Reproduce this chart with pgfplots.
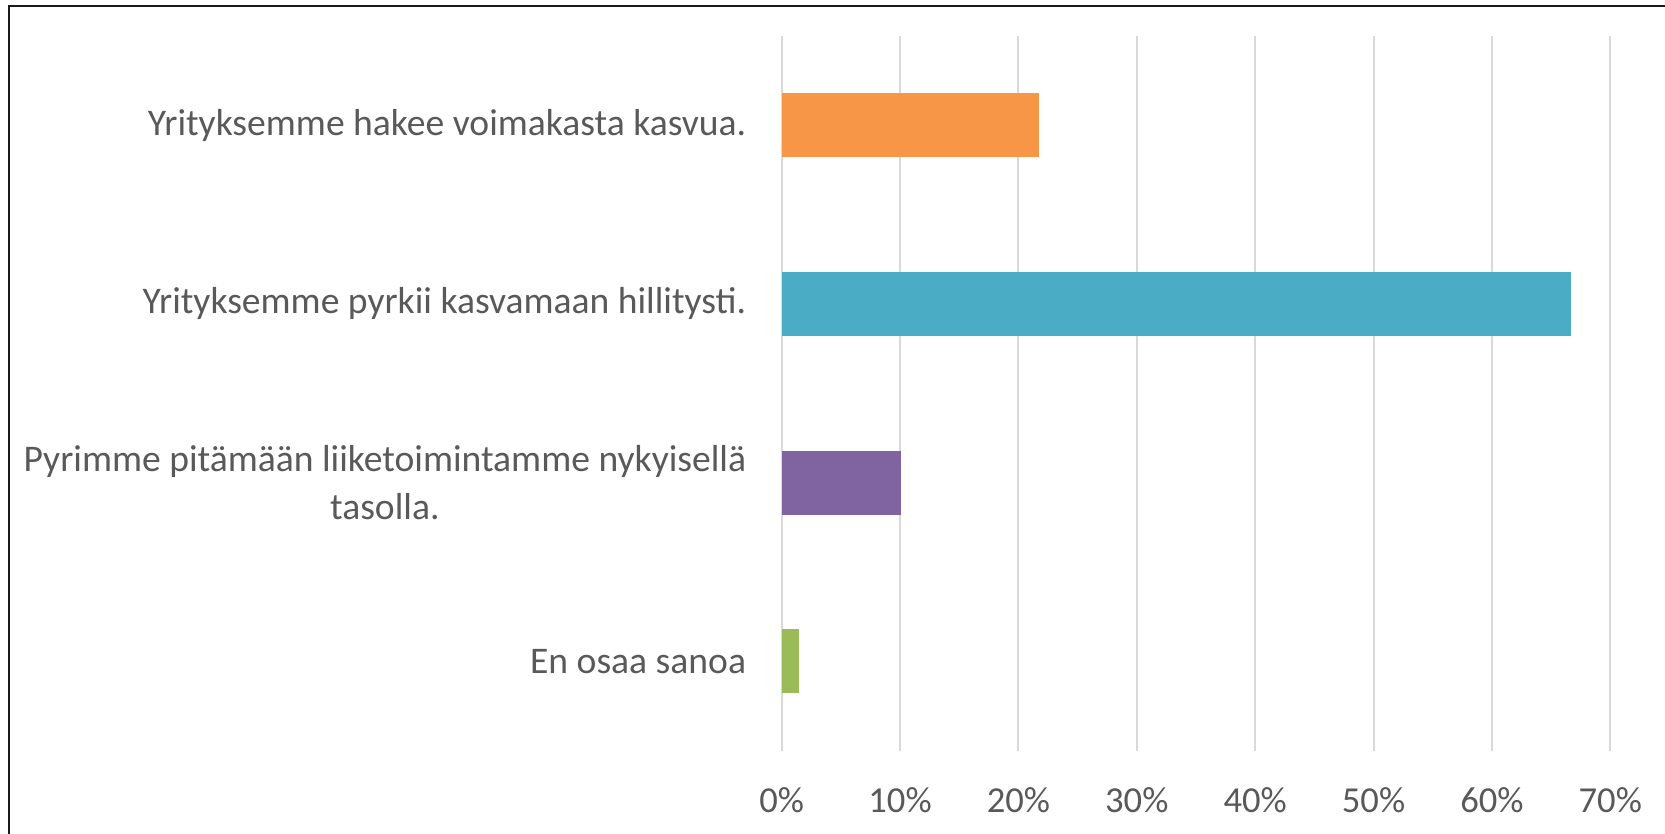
\documentclass[border=0pt]{standalone}
\usepackage{pgfplots}
\pgfplotsset{compat=1.18}
\usepackage{fontspec}
\setmainfont{Carlito}
\definecolor{txt}{HTML}{595959}
\definecolor{gridc}{HTML}{D9D9D9}
\definecolor{cOrange}{HTML}{F79646}
\definecolor{cBlue}{HTML}{4BACC6}
\definecolor{cPurple}{HTML}{8064A2}
\definecolor{cGreen}{HTML}{9BBB59}
\begin{document}
\begin{tikzpicture}
\useasboundingbox (0,0) rectangle (832.5pt,417pt);
\draw[line width=1pt, color=black!90] (4.5pt,0pt) -- (4.5pt,414pt) -- (832.5pt,414pt);
\begin{axis}[
  at={(390.85pt,41.65pt)}, anchor=south west,
  scale only axis,
  width=414.3pt, height=357.5pt,
  xmin=0, xmax=70, ymin=-0.5, ymax=3.5,
  xbar, bar shift=0pt, bar width=0.358,
  xtick={0,10,...,70},
  ytick={0,1,2,3},
  yticklabels={En osaa sanoa,{Pyrimme pitämään liiketoimintamme nykyisellä\\tasolla.},Yrityksemme pyrkii kasvamaan hillitysti.,Yrityksemme hakee voimakasta kasvua.},
  /pgf/number format/assume math mode=true,
  xticklabel={\pgfmathprintnumber{\tick}\%},
  xmajorgrids, ymajorgrids=false,
  grid style={gridc, line width=1pt},
  axis line style={draw=none},
  major tick length=0pt,
  tick label style={text=txt, inner sep=0pt},
  xticklabel style={font=\fontsize{18.3}{22}\selectfont, anchor=center, yshift=-24.5pt},
  yticklabel style={font=\fontsize{18.8}{24.2}\selectfont, anchor=east, align=center, xshift=-17.6pt},
  clip=false,
]
\addplot[draw=none, fill=cOrange] coordinates {(21.7,3)};
\addplot[draw=none, fill=cBlue] coordinates {(66.7,2)};
\addplot[draw=none, fill=cPurple] coordinates {(10.1,1)};
\addplot[draw=none, fill=cGreen] coordinates {(1.5,0)};
\end{axis}
\end{tikzpicture}
\end{document}
